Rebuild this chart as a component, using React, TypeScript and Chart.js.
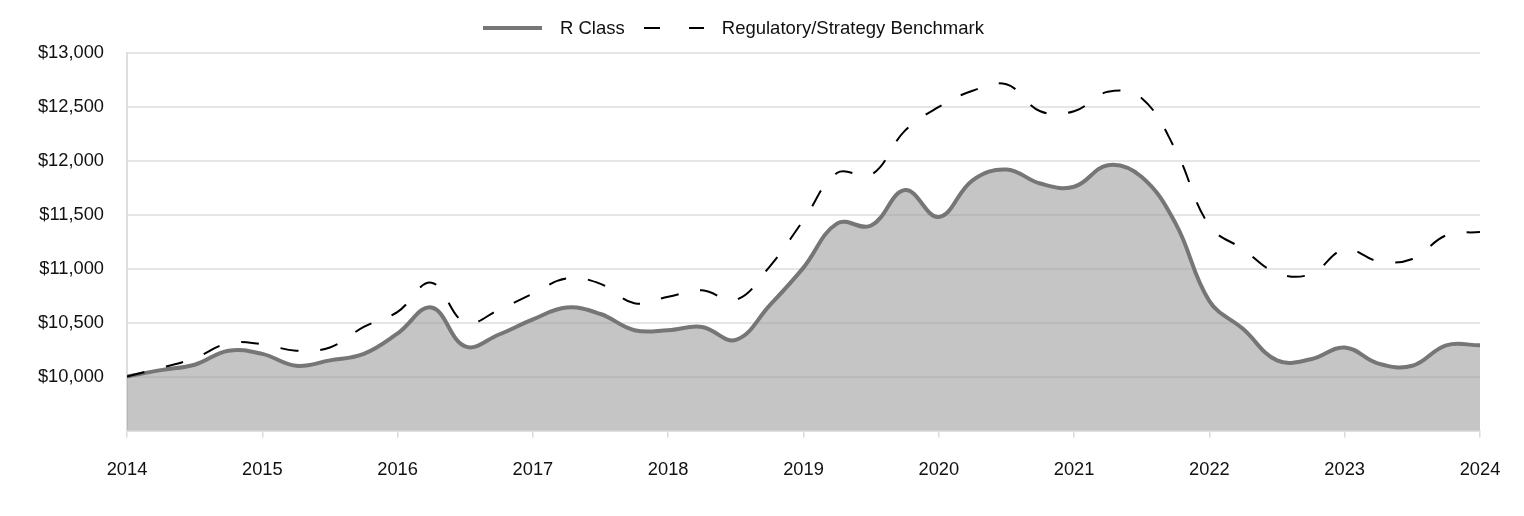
import React, { useEffect, useRef } from "react";
import { Chart, registerables } from "chart.js";

Chart.register(...registerables);

const periods = [
  2014, 2014.25, 2014.5, 2014.75,
  2015, 2015.25, 2015.5, 2015.75,
  2016, 2016.25, 2016.5, 2016.75,
  2017, 2017.25, 2017.5, 2017.75,
  2018, 2018.25, 2018.5, 2018.75,
  2019, 2019.25, 2019.5, 2019.75,
  2020, 2020.25, 2020.5, 2020.75,
  2021, 2021.25, 2021.5, 2021.75,
  2022, 2022.25, 2022.5, 2022.75,
  2023, 2023.25, 2023.5, 2023.75,
  2024,
];

const rClass = [
  10000, 10060, 10110, 10240, 10210, 10100, 10150, 10210, 10400, 10640,
  10280, 10390, 10530, 10640, 10580, 10430, 10430, 10460, 10340, 10660,
  11010, 11420, 11400, 11730, 11480, 11820, 11920, 11790, 11760, 11960,
  11850, 11420, 10700, 10440, 10150, 10160, 10270, 10120, 10100, 10290,
  10290,
];

const benchmark = [
  10000, 10080, 10170, 10310, 10300, 10240, 10270, 10460, 10600, 10870,
  10500, 10620, 10770, 10910, 10860, 10680, 10740, 10800, 10710, 11020,
  11450, 11890, 11870, 12280, 12500, 12650, 12710, 12460, 12460, 12640,
  12580, 12100, 11400, 11180, 10960, 10950, 11180, 11070, 11090, 11310,
  11340,
];

const yearTicks = [2014, 2015, 2016, 2017, 2018, 2019, 2020, 2021, 2022, 2023, 2024];
const seriesNames = ["R Class", "Regulatory/Strategy Benchmark"];

const FONT = "'Liberation Sans', Arial, Helvetica, sans-serif";

export default function App() {
  const ref = useRef<HTMLCanvasElement | null>(null);

  useEffect(() => {
    if (!ref.current) return;
    const chart = new Chart(ref.current, {
      type: "line",
      data: {
        datasets: [
          {
            label: seriesNames[0],
            data: periods.map((p, i) => ({ x: p, y: rClass[i] })),
            borderColor: "#767676",
            borderWidth: 4,
            backgroundColor: "rgba(150,150,150,0.55)",
            fill: "start",
            pointRadius: 0,
            tension: 0.4,
            order: 2,
          },
          {
            label: seriesNames[1],
            data: periods.map((p, i) => ({ x: p, y: benchmark[i] })),
            borderColor: "#000000",
            borderWidth: 2,
            borderDash: [18, 22],
            fill: false,
            pointRadius: 0,
            tension: 0.4,
            order: 1,
          },
        ],
      },
      options: {
        animation: false,
        responsive: true,
        maintainAspectRatio: false,
        layout: { padding: { top: 45, right: 36, left: 0, bottom: 0 } },
        plugins: {
          legend: { display: false },
          tooltip: { enabled: false },
        },
        scales: {
          x: {
            type: "linear",
            min: 2014,
            max: 2024,
            afterBuildTicks: (scale: any) => {
              scale.ticks = yearTicks.map((v) => ({ value: v }));
            },
            ticks: {
              color: "#111",
              font: { family: FONT, size: 18.3 },
              padding: 21,
              maxRotation: 0,
              callback: (v: any) => String(v),
            },
            grid: {
              drawOnChartArea: false,
              color: "#dcdcdc",
              lineWidth: 1.5,
              tickLength: 7,
            },
            border: { display: true, color: "#d6d6d6", width: 1.5 },
            afterFit: (scale: any) => {
              scale.height = 77.5;
              scale.paddingLeft = 0;
              scale.paddingRight = 0;
            },
          },
          y: {
            type: "linear",
            min: 9500,
            max: 13000,
            ticks: {
              stepSize: 500,
              color: "#111",
              font: { family: FONT, size: 18.3 },
              padding: 23,
              callback: (v: any) =>
                v < 10000 ? "" : "$" + Number(v).toLocaleString("en-US"),
            },
            grid: {
              color: "#e6e6e6",
              lineWidth: 2,
              drawTicks: false,
            },
            border: { display: true, color: "#dedede", width: 2 },
            afterFit: (scale: any) => {
              scale.width = 119;
              scale.paddingTop = 0;
              scale.paddingBottom = 0;
            },
          },
        },
      },
    });
    return () => chart.destroy();
  }, []);

  const textStyle: React.CSSProperties = {
    fontFamily: FONT,
    fontSize: 18.5,
    color: "#111",
    whiteSpace: "nowrap",
    lineHeight: "22px",
  };

  return (
    <div style={{ position: "relative", width: 1508, height: 500 }}>
      <canvas ref={ref} />
      <div
        style={{
          position: "absolute",
          top: 9,
          left: 475,
          height: 22,
          display: "flex",
          alignItems: "center",
        }}
      >
        <span
          style={{
            display: "inline-block",
            width: 59,
            height: 4,
            background: "#767676",
            marginRight: 18,
          }}
        />
        <span style={textStyle}>{seriesNames[0]}</span>
        <svg width={60} height={4} style={{ marginLeft: 19, marginRight: 18 }}>
          <line
            x1={0}
            y1={2}
            x2={60}
            y2={2}
            stroke="#000"
            strokeWidth={2}
            strokeDasharray="16 29"
          />
        </svg>
        <span style={textStyle}>{seriesNames[1]}</span>
      </div>
    </div>
  );
}
